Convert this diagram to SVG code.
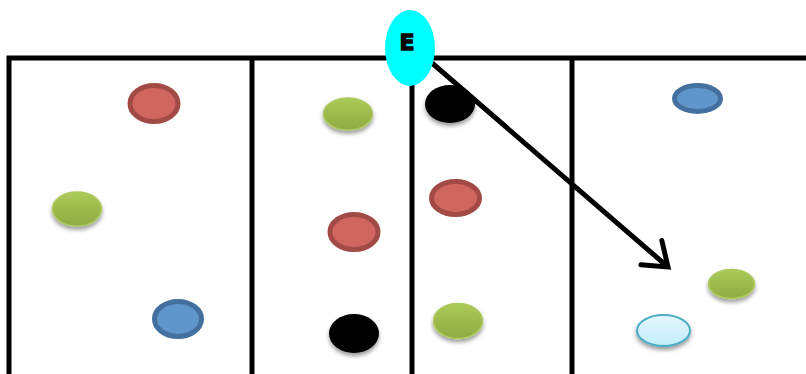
<svg xmlns="http://www.w3.org/2000/svg" width="806" height="374" viewBox="0 0 806 374">
<style>
.frame{stroke:#000;stroke-width:5;fill:none}
.red{fill:#d0665f;stroke:#a24a45;stroke-width:5}
.blue{fill:#5f96cb;stroke:#44709f;stroke-width:5}
.green{fill:url(#gg);stroke:#acc95e;stroke-width:1.5;filter:url(#sh)}
.black{fill:#000;filter:url(#sh)}
.lblue{fill:url(#lb);stroke:#4bacc6;stroke-width:2;filter:url(#sh)}
.conn{stroke:#000;stroke-width:5;fill:none}
</style>
<defs>
<linearGradient id="gg" x1="0" y1="0" x2="0" y2="1">
<stop offset="0" stop-color="#abcb58"/><stop offset="1" stop-color="#90aa43"/>
</linearGradient>
<linearGradient id="lb" x1="0" y1="0" x2="0" y2="1">
<stop offset="0" stop-color="#e4f7fd"/><stop offset="1" stop-color="#c2edfa"/>
</linearGradient>
<filter id="sh" x="-30%" y="-30%" width="160%" height="180%">
<feDropShadow dx="0" dy="3" stdDeviation="2" flood-color="#000" flood-opacity="0.4"/>
</filter>
<marker id="arr" markerUnits="userSpaceOnUse" markerWidth="40" markerHeight="40" refX="28" refY="20" orient="auto" viewBox="0 0 40 40">
<path d="M6,4 L28,20 L6,36" fill="none" stroke="#000" stroke-width="5" stroke-linecap="round" stroke-linejoin="miter"/>
</marker>
</defs>
<g id="frame">
<path class="frame" d="M9,374 V58 H806"/>
<line class="frame" x1="252" y1="58" x2="252" y2="374"/>
<line class="frame" x1="412" y1="58" x2="412" y2="374"/>
<line class="frame" x1="572" y1="58" x2="572" y2="374"/>
</g>
<g id="s1-red"><ellipse class="red" cx="154" cy="103.5" rx="24" ry="18"/></g>
<g id="s1-green"><ellipse class="green" cx="77" cy="209" rx="24.5" ry="17"/></g>
<g id="s1-blue"><ellipse class="blue" cx="178" cy="319" rx="23.5" ry="17.5"/></g>
<g id="s2-green"><ellipse class="green" cx="348" cy="114" rx="24.5" ry="16"/></g>
<g id="s2-red"><ellipse class="red" cx="354" cy="232" rx="24" ry="17.5"/></g>
<g id="s2-black"><ellipse class="black" cx="354" cy="333.5" rx="25" ry="19.5"/></g>
<g id="s3-black"><ellipse class="black" cx="450" cy="104" rx="25" ry="19"/></g>
<g id="s3-red"><ellipse class="red" cx="455.5" cy="198" rx="24" ry="16.5"/></g>
<g id="s3-green"><ellipse class="green" cx="458" cy="321" rx="24.5" ry="17.5"/></g>
<g id="s4-blue"><ellipse class="blue" cx="697.5" cy="98.5" rx="23" ry="13"/></g>
<g id="s4-green"><ellipse class="green" cx="731.5" cy="284" rx="23" ry="14.5"/></g>
<g id="s4-lightblue"><ellipse class="lblue" cx="663.5" cy="330.5" rx="26.5" ry="15.5"/></g>
<g id="connectors">
<line class="conn" x1="432" y1="63" x2="668" y2="267" marker-end="url(#arr)"/>
</g>
<g id="E">
<ellipse cx="410" cy="48" rx="25" ry="38" fill="#00ffff"/>
<text x="407" y="50" font-family="'DejaVu Sans', sans-serif" font-weight="900" font-size="22" text-anchor="middle" fill="#000" stroke="#000" stroke-width="1.3">E</text>
</g>
</svg>
